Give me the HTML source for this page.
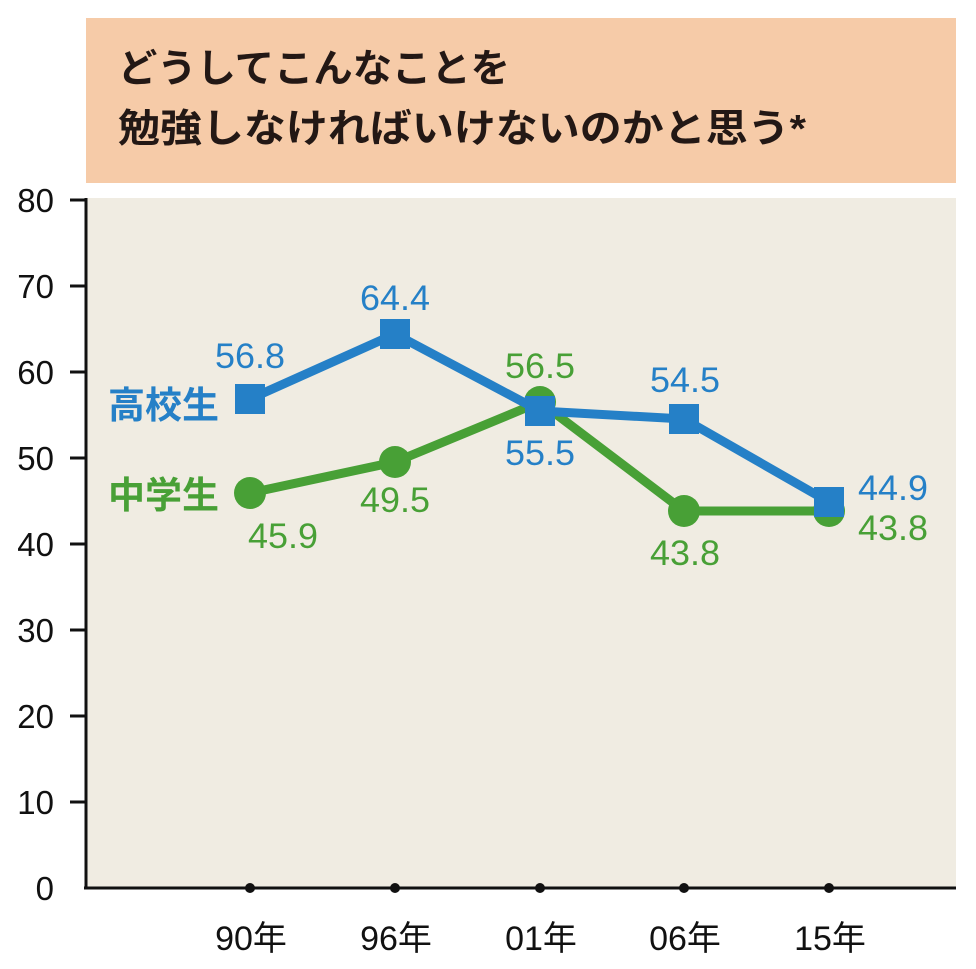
<!DOCTYPE html>
<html><head><meta charset="utf-8"><style>
html,body{margin:0;padding:0;background:#fff;}
svg{display:block;font-family:"Liberation Sans","Noto Sans CJK JP",sans-serif;}
</style></head><body>
<svg width="976" height="969" viewBox="0 0 976 969" xmlns="http://www.w3.org/2000/svg">
<rect x="86" y="18" width="870" height="165" fill="#f6cba8"/>
<text x="118" y="82" font-size="39" font-weight="bold" fill="#231815" textLength="392" lengthAdjust="spacingAndGlyphs">どうしてこんなことを</text>
<text x="118" y="142" font-size="39" font-weight="bold" fill="#231815" textLength="688" lengthAdjust="spacingAndGlyphs">勉強しなければいけないのかと思う*</text>
<rect x="86" y="198" width="870" height="690" fill="#f0ece2"/>
<g stroke="#111" stroke-width="3">
<line x1="86" y1="198" x2="86" y2="888"/>
<line x1="84" y1="888" x2="956" y2="888"/>
<line x1="70" y1="200" x2="86" y2="200"/><line x1="70" y1="286" x2="86" y2="286"/>
<line x1="70" y1="372" x2="86" y2="372"/><line x1="70" y1="458" x2="86" y2="458"/>
<line x1="70" y1="544" x2="86" y2="544"/><line x1="70" y1="630" x2="86" y2="630"/>
<line x1="70" y1="716" x2="86" y2="716"/><line x1="70" y1="802" x2="86" y2="802"/>
</g>
<g font-size="33" fill="#111" text-anchor="end">
<text x="54" y="212">80</text><text x="54" y="298">70</text><text x="54" y="384">60</text>
<text x="54" y="470">50</text><text x="54" y="556">40</text><text x="54" y="642">30</text>
<text x="54" y="728">20</text><text x="54" y="814">10</text><text x="54" y="900">0</text>
</g>
<g fill="#111"><circle cx="250" cy="888" r="5"/><circle cx="395" cy="888" r="5"/><circle cx="540" cy="888" r="5"/><circle cx="684" cy="888" r="5"/><circle cx="829" cy="888" r="5"/></g>
<g font-size="34" fill="#111" text-anchor="middle">
<text x="251" y="950">90年</text><text x="396" y="950">96年</text><text x="541" y="950">01年</text><text x="685" y="950">06年</text><text x="830" y="950">15年</text>
</g>
<polyline points="250,493 395,462 540,402 684,511 829,511" fill="none" stroke="#48a036" stroke-width="9" stroke-linejoin="round"/>
<g fill="#48a036"><circle cx="250" cy="493" r="16"/><circle cx="395" cy="462" r="16"/><circle cx="540" cy="402" r="16"/><circle cx="684" cy="511" r="16"/><circle cx="829" cy="511" r="16"/></g>
<polyline points="250,399 395,334 540,411 684,419 829,502" fill="none" stroke="#2580c7" stroke-width="9" stroke-linejoin="round"/>
<g fill="#2580c7"><rect x="235" y="384" width="30" height="30"/><rect x="380" y="319" width="30" height="30"/><rect x="525" y="396" width="30" height="30"/><rect x="669" y="404" width="30" height="30"/><rect x="814" y="487" width="30" height="30"/></g>
<g font-size="35" fill="#2580c7">
<text x="215" y="368" textLength="70" lengthAdjust="spacingAndGlyphs">56.8</text>
<text x="360" y="310" textLength="70" lengthAdjust="spacingAndGlyphs">64.4</text>
<text x="505" y="465" textLength="70" lengthAdjust="spacingAndGlyphs">55.5</text>
<text x="650" y="392" textLength="70" lengthAdjust="spacingAndGlyphs">54.5</text>
<text x="858" y="500" textLength="70" lengthAdjust="spacingAndGlyphs">44.9</text>
<text x="108" y="418" font-size="37" font-weight="bold">高校生</text>
</g>
<g font-size="35" fill="#48a036">
<text x="248" y="548" textLength="70" lengthAdjust="spacingAndGlyphs">45.9</text>
<text x="360" y="512" textLength="70" lengthAdjust="spacingAndGlyphs">49.5</text>
<text x="505" y="378" textLength="70" lengthAdjust="spacingAndGlyphs">56.5</text>
<text x="650" y="565" textLength="70" lengthAdjust="spacingAndGlyphs">43.8</text>
<text x="858" y="540" textLength="70" lengthAdjust="spacingAndGlyphs">43.8</text>
<text x="108" y="508" font-size="37" font-weight="bold">中学生</text>
</g>
</svg>
</body></html>
